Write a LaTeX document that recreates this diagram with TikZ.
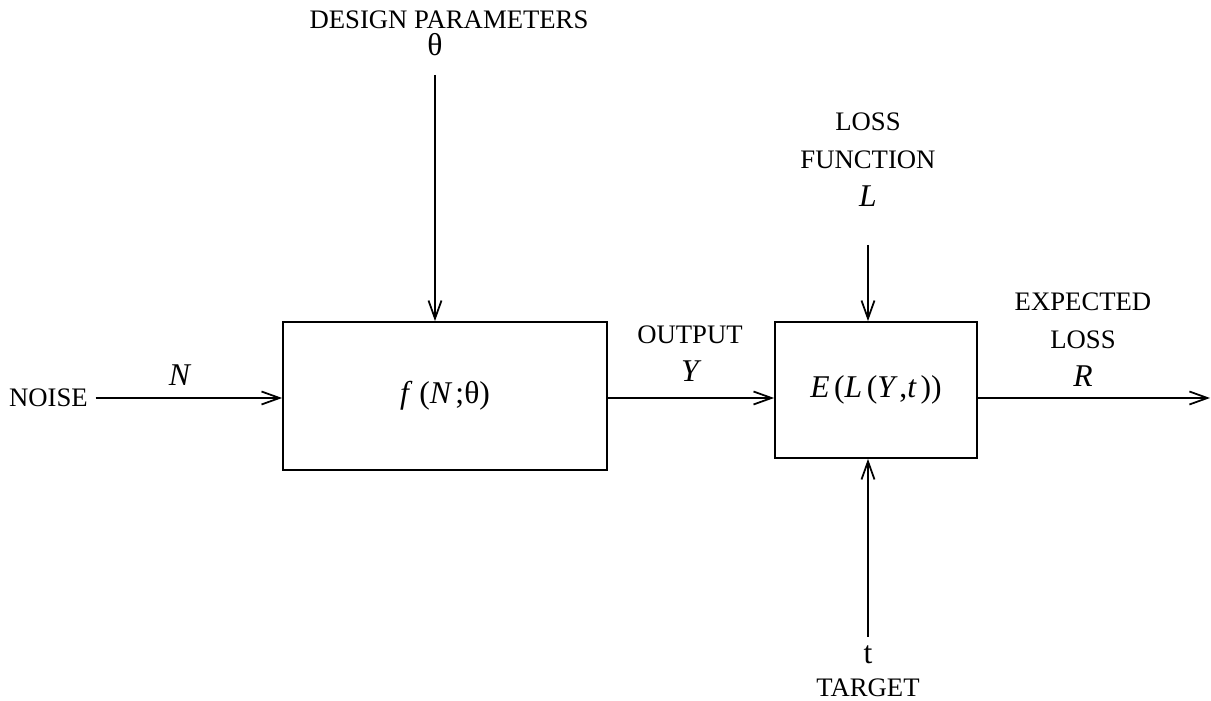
\documentclass[tikz,border=0pt]{standalone}
\usepackage{fontspec}
\setmainfont{Liberation Serif}
\usetikzlibrary{
  positioning,
  arrows.meta
}
% italic symbols, set a little larger than the labels
\newcommand{\vsym}[1]{{\fontsize{9}{10.8}\selectfont\itshape #1}}
\newcommand{\vup}[1]{{\fontsize{9}{10.8}\selectfont #1}}

\begin{document}
\begin{tikzpicture}[
    font=\fontsize{7.6}{10.8}\selectfont,
    >={Straight Barb[length=1.8mm,width=1.3mm]},
    % Block styles
    blk/.style={
        rectangle, draw=black, line width=0.5pt, align=center, inner sep=2pt
    },
    lbl/.style={align=center, inner sep=1pt},
    % Arrow styles
    arr/.style={->, line width=0.5pt, draw=black}
]
\useasboundingbox (0,0) rectangle (12.11,7.01);

% ==========================================
% BLOCKS
% ==========================================
\node[blk, minimum width=3.24cm, minimum height=1.48cm] (plant) at (4.45,3.05)
    {\raisebox{-1pt}{\vsym{f}\hspace{3pt}\vup{(}\vsym{N}\,\vup{;θ)}}};
\node[blk, minimum width=2.02cm, minimum height=1.36cm] (risk) at (8.76,3.11)
    {\vsym{E}\,\vup{(}\vsym{L}\,\vup{(}\vsym{Y}\,\vup{,}\vsym{t}\,\vup{))}};

% ==========================================
% LABELS
% ==========================================
\node[lbl, anchor=east] (noise) at (0.92,3.03) {NOISE};
\node[lbl] (design) at (4.49,6.81) {DESIGN PARAMETERS};
\node[lbl] (theta) at (4.35,6.56) {\vup{θ}};
\node[lbl] (lossfn) at (8.68,5.41) {LOSS\\FUNCTION\\\vsym{L}};
\node[lbl] (output) at (6.90,3.47) {OUTPUT\\\vsym{Y}};
\node[lbl] (expect) at (10.83,3.61) {EXPECTED\\LOSS\\\vsym{R}};
\node[lbl] (tval) at (8.68,0.46) {\vup{t}};
\node[lbl] (target) at (8.68,0.13) {TARGET};

% ==========================================
% CONNECTORS
% ==========================================
\coordinate (thetaend) at (4.35,6.26);
\coordinate (lossend) at (8.68,4.56);
\coordinate (targend) at (8.68,0.64);
\coordinate (rout) at (12.10,3.03);

% 1. Noise into the plant
\draw[arr] ([xshift=1pt]noise.east) -- (plant.west |- noise.east)
    node[pos=0.45, above=0pt] (nlab) {\vsym{N}};

% 2. Design parameters down into the plant
\draw[arr] (thetaend) -- (plant.north -| thetaend);

% 3. Output Y across to the loss block
\draw[arr] (plant.east |- noise.east) -- (risk.west |- noise.east);

% 4. Loss function and target into the loss block
\draw[arr] (lossend) -- (risk.north -| lossend);
\draw[arr] (targend) -- (risk.south -| targend);

% 5. Expected loss out
\draw[arr] (risk.east |- rout) -- (rout);

\end{tikzpicture}
\end{document}
